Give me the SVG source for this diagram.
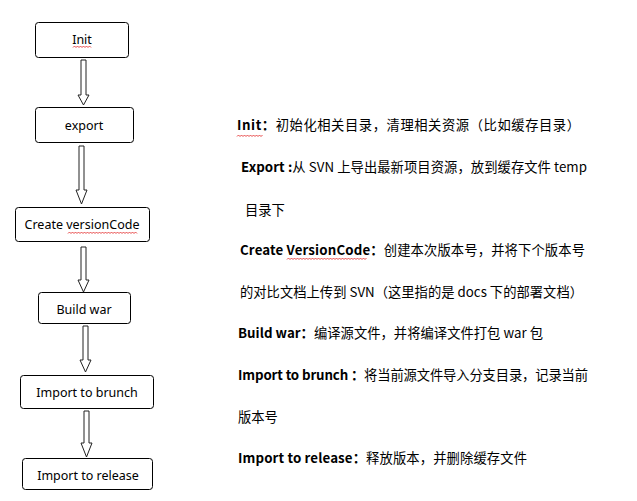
<svg xmlns="http://www.w3.org/2000/svg" width="637" height="501" viewBox="0 0 637 501">
<style>
.box{fill:#fff;stroke:#000;stroke-width:1}
.lbl{font-family:"Noto Sans","Noto Sans CJK SC",sans-serif;font-size:12.5px;fill:#000;text-anchor:middle}
.arr{fill:#fff;stroke:#222;stroke-width:1}
.t{font-family:"Noto Sans CJK SC","Noto Sans",sans-serif;font-size:13.3px;fill:#000}
.b{font-weight:bold}
.wave{fill:none;stroke:#e02020;stroke-width:0.8}
</style>
<rect width="637" height="501" fill="#fff"/>
<g id="connectors">
<polygon class="arr" points="81,60 86,60 86,95 89,95 83.5,105 78,95 81,95"/>
<polygon class="arr" points="79,146 84,146 84,190 87,190 81.5,204 76,190 79,190"/>
<polygon class="arr" points="81,247 86,247 86,280 89,280 83.5,292 78,280 81,280"/>
<polygon class="arr" points="83,326 88,326 88,360 91,360 85.5,372 80,360 83,360"/>
<polygon class="arr" points="84,411 89,411 89,443 92,443 86.5,457 81,443 84,443"/>
</g>
<g id="init"><rect class="box" x="35.5" y="22.5" width="93" height="35" rx="3"/><text class="lbl" x="82" y="44">Init</text></g>
<g id="export"><rect class="box" x="35.5" y="107.5" width="98" height="35" rx="3"/><text class="lbl" x="84" y="130">export</text></g>
<g id="createVersionCode"><rect class="box" x="15.5" y="207.5" width="134" height="34" rx="3"/><text class="lbl" x="82" y="229">Create versionCode</text></g>
<g id="buildWar"><rect class="box" x="38.5" y="292.5" width="92" height="31" rx="3"/><text class="lbl" x="84" y="314">Build war</text></g>
<g id="importToBrunch"><rect class="box" x="20.5" y="375.5" width="133" height="33" rx="3"/><text class="lbl" x="87" y="397">Import to brunch</text></g>
<g id="importToRelease"><rect class="box" x="22.5" y="458.5" width="130" height="31" rx="3"/><text class="lbl" x="88" y="480">Import to release</text></g>
<g id="spellcheck">
<path class="wave" d="M73,47.5 l1.5,-1.5 l1.5,1.5 l1.5,-1.5 l1.5,1.5 l1.5,-1.5 l1.5,1.5 l1.5,-1.5 l1.5,1.5 l1.5,-1.5 l1.5,1.5 l1.5,-1.5 l1.5,1.5"/>
<path class="wave" d="M68,233.5 l1.5,-1.5 l1.5,1.5 l1.5,-1.5 l1.5,1.5 l1.5,-1.5 l1.5,1.5 l1.5,-1.5 l1.5,1.5 l1.5,-1.5 l1.5,1.5 l1.5,-1.5 l1.5,1.5 l1.5,-1.5 l1.5,1.5 l1.5,-1.5 l1.5,1.5 l1.5,-1.5 l1.5,1.5 l1.5,-1.5 l1.5,1.5 l1.5,-1.5 l1.5,1.5 l1.5,-1.5 l1.5,1.5 l1.5,-1.5 l1.5,1.5 l1.5,-1.5 l1.5,1.5 l1.5,-1.5 l1.5,1.5 l1.5,-1.5 l1.5,1.5 l1.5,-1.5 l1.5,1.5 l1.5,-1.5 l1.5,1.5 l1.5,-1.5 l1.5,1.5 l1.5,-1.5 l1.5,1.5 l1.5,-1.5 l1.5,1.5 l1.5,-1.5 l1.5,1.5 l1.5,-1.5 l1.5,1.5"/>
<path class="wave" d="M237,136.5 l1.5,-1.5 l1.5,1.5 l1.5,-1.5 l1.5,1.5 l1.5,-1.5 l1.5,1.5 l1.5,-1.5 l1.5,1.5 l1.5,-1.5 l1.5,1.5 l1.5,-1.5 l1.5,1.5 l1.5,-1.5 l1.5,1.5 l1.5,-1.5 l1.5,1.5 l1.5,-1.5"/>
<path class="wave" d="M287,259.5 l1.5,-1.5 l1.5,1.5 l1.5,-1.5 l1.5,1.5 l1.5,-1.5 l1.5,1.5 l1.5,-1.5 l1.5,1.5 l1.5,-1.5 l1.5,1.5 l1.5,-1.5 l1.5,1.5 l1.5,-1.5 l1.5,1.5 l1.5,-1.5 l1.5,1.5 l1.5,-1.5 l1.5,1.5 l1.5,-1.5 l1.5,1.5 l1.5,-1.5 l1.5,1.5 l1.5,-1.5 l1.5,1.5 l1.5,-1.5 l1.5,1.5 l1.5,-1.5 l1.5,1.5 l1.5,-1.5 l1.5,1.5 l1.5,-1.5 l1.5,1.5 l1.5,-1.5 l1.5,1.5 l1.5,-1.5 l1.5,1.5 l1.5,-1.5 l1.5,1.5 l1.5,-1.5 l1.5,1.5 l1.5,-1.5 l1.5,1.5 l1.5,-1.5 l1.5,1.5 l1.5,-1.5 l1.5,1.5 l1.5,-1.5 l1.5,1.5 l1.5,-1.5 l1.5,1.5 l1.5,-1.5 l1.5,1.5 l1.5,-1.5"/>
</g>
<g id="notes">
<text class="t" x="237" y="130" textLength="343" lengthAdjust="spacing"><tspan class="b">Init：</tspan>初始化相关目录，清理相关资源（比如缓存目录）</text>
<text class="t" x="241" y="172" textLength="346" lengthAdjust="spacing"><tspan class="b">Export :</tspan>从 SVN 上导出最新项目资源，放到缓存文件 temp</text>
<text class="t" x="245" y="215">目录下</text>
<text class="t" x="240" y="255" textLength="345" lengthAdjust="spacing"><tspan class="b">Create VersionCode：</tspan>创建本次版本号，并将下个版本号</text>
<text class="t" x="240" y="297" textLength="343" lengthAdjust="spacing">的对比文档上传到 SVN（这里指的是 docs 下的部署文档）</text>
<text class="t" x="238" y="338" textLength="305" lengthAdjust="spacing"><tspan class="b">Build war：</tspan>编译源文件，并将编译文件打包 war 包</text>
<text class="t" x="238" y="380" textLength="350" lengthAdjust="spacing"><tspan class="b">Import to brunch ：</tspan>将当前源文件导入分支目录，记录当前</text>
<text class="t" x="238" y="422">版本号</text>
<text class="t" x="238" y="463" textLength="289" lengthAdjust="spacing"><tspan class="b">Import to release：</tspan>释放版本，并删除缓存文件</text>
</g>
</svg>
